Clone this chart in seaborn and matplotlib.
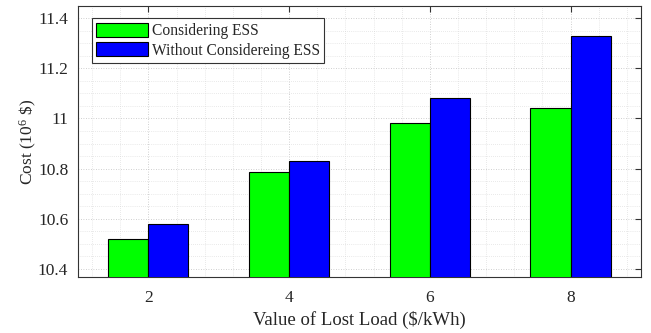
import matplotlib
matplotlib.use("Agg")
import matplotlib.pyplot as plt
from matplotlib.ticker import MultipleLocator
import seaborn as sns
import pandas as pd

# Value of lost load ($/kWh) and total cost (10^6 $) for each case
voll = [2, 4, 6, 8]
cost_with_ess = [10.52, 10.785, 10.98, 11.04]
cost_without_ess = [10.58, 10.83, 11.08, 11.33]
series_names = ["Considering ESS", "Without Considereing ESS"]
series_colors = ["#00ff00", "#0000ff"]

df = pd.DataFrame({
    "voll": voll * 2,
    "cost": cost_with_ess + cost_without_ess,
    "case": [series_names[0]] * len(voll) + [series_names[1]] * len(voll),
})

sns.set_style("white")
plt.rcParams["font.family"] = ["Liberation Serif", "DejaVu Serif"]
plt.rcParams["mathtext.fontset"] = "custom"
plt.rcParams["mathtext.rm"] = "Liberation Serif"
plt.rcParams["mathtext.it"] = "Liberation Serif:italic"

fig = plt.figure(figsize=(6.51, 3.33), dpi=100)
ax = fig.add_axes([0.1198, 0.168, 0.8648, 0.814])

sns.barplot(data=df, x="voll", y="cost", hue="case", hue_order=series_names,
            palette=series_colors, native_scale=True, width=0.57,
            edgecolor="black", linewidth=0.8, saturation=1, ax=ax, zorder=3)

ax.set_xlim(1, 9)
ax.set_ylim(10.368, 11.448)
ax.set_xticks(voll)
ax.set_yticks([10.4, 10.6, 10.8, 11.0, 11.2, 11.4])
ax.set_yticklabels(["10.4", "10.6", "10.8", "11", "11.2", "11.4"])
ax.xaxis.set_minor_locator(MultipleLocator(0.4))
ax.yaxis.set_minor_locator(MultipleLocator(0.05))

ax.grid(True, which="major", linestyle=(0, (1, 2)), color="#c0c0c0", linewidth=0.6, zorder=0)
ax.grid(True, which="minor", linestyle=(0, (1, 2)), color="#d4d4d4", linewidth=0.5, zorder=0)
ax.set_axisbelow(True)

ax.tick_params(which="major", direction="in", length=4, width=0.8, color="#333333",
               top=True, right=True, labelsize=12.5)
ax.tick_params(axis="x", which="major", pad=9)
ax.tick_params(axis="y", which="major", pad=7)
ax.tick_params(which="minor", length=0)
for s in ax.spines.values():
    s.set_color("#333333")
    s.set_linewidth(0.8)

ax.set_xlabel(r"Value of Lost Load (\$/kWh)", fontsize=13.5, labelpad=4)
ax.set_ylabel(r"Cost (10$^{\mathdefault{6}}$ \$)", fontsize=12.5, labelpad=-1)

leg = ax.legend(loc="upper left", bbox_to_anchor=(0.0245, 0.955), fontsize=11.2,
                frameon=True, fancybox=False, edgecolor="#333333",
                handlelength=3.3, handleheight=1.0, handletextpad=0.25,
                borderpad=0.3, labelspacing=0.2, borderaxespad=0.0)
leg.get_frame().set_linewidth(0.8)
leg.get_frame().set_alpha(1)

fig.savefig("out.png", dpi=100)
